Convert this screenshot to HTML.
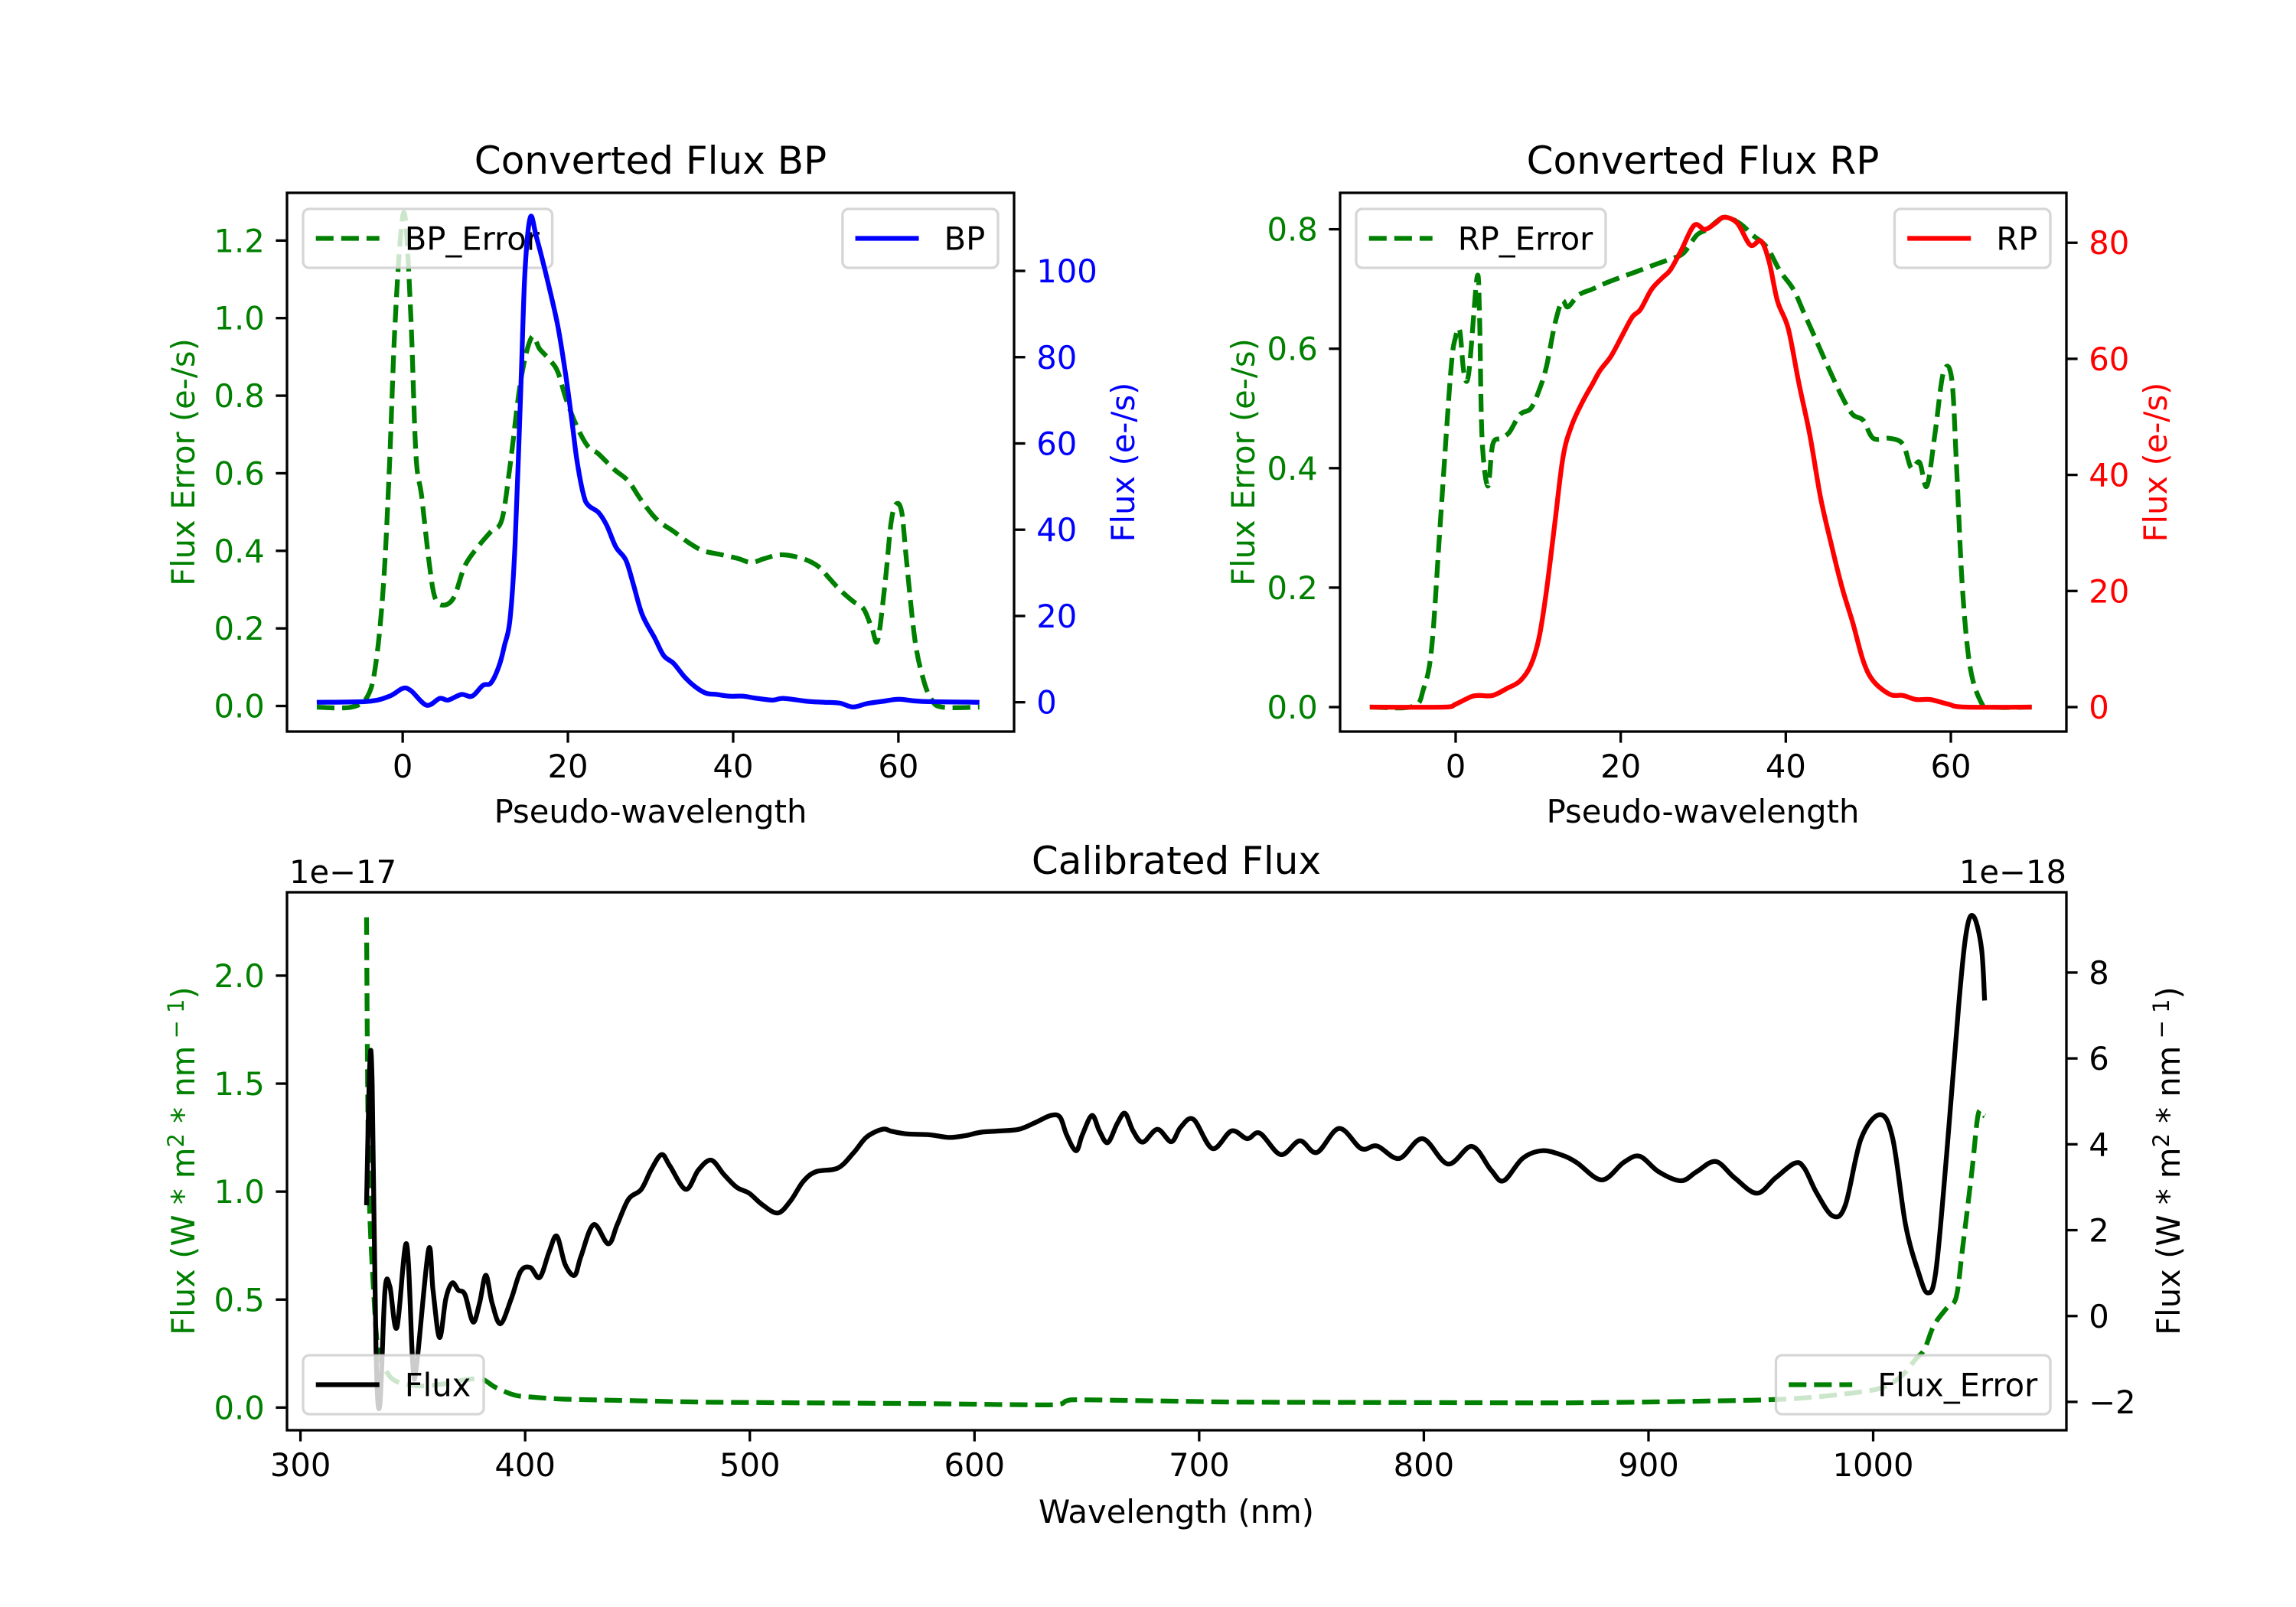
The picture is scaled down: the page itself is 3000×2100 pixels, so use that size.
<!DOCTYPE html>
<html><head><meta charset="utf-8"><style>
html,body{margin:0;padding:0;background:#fff}
svg{display:block;font-family:"DejaVu Sans","Liberation Sans",sans-serif}
</style></head><body>
<svg id="fig" width="3000" height="2100" viewBox="0 0 3000 2100" xmlns="http://www.w3.org/2000/svg">
<rect x="0" y="0" width="3000" height="2100" fill="#fff"/>
<defs>
<clipPath id="c1"><rect x="375" y="252" width="950" height="704"/></clipPath>
<clipPath id="c2"><rect x="1751" y="252" width="949" height="704"/></clipPath>
<clipPath id="c3"><rect x="375" y="1166" width="2325" height="703"/></clipPath>
</defs>
<g font-size="41.7">
<text x="850" y="227" text-anchor="middle" font-size="50">Converted Flux BP</text>
<text x="2225" y="227" text-anchor="middle" font-size="50">Converted Flux RP</text>
<text x="1537" y="1142" text-anchor="middle" font-size="50">Calibrated Flux</text>
<text x="850" y="1075" text-anchor="middle">Pseudo-wavelength</text>
<text x="2225" y="1075" text-anchor="middle">Pseudo-wavelength</text>
<text x="1537" y="1990" text-anchor="middle">Wavelength (nm)</text>
<text transform="translate(254,604) rotate(-90)" text-anchor="middle" fill="#008000">Flux Error (e-/s)</text>
<text transform="translate(1482,604) rotate(-90)" text-anchor="middle" fill="#0000ff">Flux (e-/s)</text>
<text transform="translate(1639,604) rotate(-90)" text-anchor="middle" fill="#008000">Flux Error (e-/s)</text>
<text transform="translate(2831,604) rotate(-90)" text-anchor="middle" fill="#ff0000">Flux (e-/s)</text>
<text transform="translate(254,1517) rotate(-90)" text-anchor="middle" fill="#008000">Flux (W * m<tspan dy="-14" font-size="29">2</tspan><tspan dy="14"> * nm</tspan><tspan dy="-14" font-size="29"> − 1</tspan><tspan dy="14">)</tspan></text>
<text transform="translate(2848,1517) rotate(-90)" text-anchor="middle" fill="#000">Flux (W * m<tspan dy="-14" font-size="29">2</tspan><tspan dy="14"> * nm</tspan><tspan dy="-14" font-size="29"> − 1</tspan><tspan dy="14">)</tspan></text>
<text x="378" y="1154">1e−17</text>
<text x="2700" y="1154" text-anchor="end">1e−18</text>
</g>
</svg>
<script>
// ---- data ----
const bpErrX=[-10.4,-6.2,-4.2,-3.2,-2.3,-1.6,-1.0,-0.3,0.3,1.0,1.6,2.3,3.2,3.9,4.9,6.2,7.5,9.1,10.7,12,13,14.3,15.6,16.6,17.9,18.8,19.8,21.1,22.4,23.7,25.6,27.3,28.9,30.8,32.8,34.7,36.4,38.6,40.6,42.2,43.8,45.8,48.4,50.3,51.6,52.9,54.5,55.8,56.8,57.5,58.4,59.1,59.7,60.4,61,62,63,64,65.3,69.8];
const bpErrY=[-0.003,-0.003,0.027,0.117,0.32,0.62,0.95,1.2,1.26,1.0,0.65,0.54,0.37,0.28,0.26,0.28,0.36,0.41,0.45,0.48,0.62,0.84,0.95,0.92,0.89,0.86,0.79,0.72,0.67,0.65,0.61,0.58,0.53,0.48,0.45,0.42,0.40,0.39,0.38,0.37,0.38,0.39,0.38,0.36,0.33,0.30,0.27,0.25,0.20,0.17,0.32,0.47,0.52,0.50,0.37,0.17,0.07,0.017,-0.003,-0.003];
const bpX=[-10.4,-4.2,-1.6,0,1,2.9,4.5,5.5,7.1,8.4,9.7,10.7,11.7,12.3,13,13.6,14.3,14.8,15.45,16.2,17.5,18.8,19.8,20.5,21.1,21.9,22.5,23.7,24.7,25.8,27,27.9,29,30.5,31.6,32.8,34.1,35.4,36.7,38,39.6,41.2,42.9,44.8,46.1,49,51,52.9,54.5,56.2,58.1,60.1,62.7,69.8];
const bpY=[0,0.2,1.4,3.2,2.7,-0.7,0.9,0.5,1.8,1.4,3.9,4.5,8.6,13,19.4,36.6,72.7,99.7,112.4,107.8,98,87,75,65,56,48,45.6,44,41,36,33,27.5,20.3,14.9,10.8,9,5.9,3.6,2.1,1.8,1.4,1.4,0.9,0.5,0.9,0.2,0,-0.2,-1.1,-0.3,0.2,0.7,0.2,0];
const rpX=[-10.4,-1.3,0,1.9,2.9,4.5,6.2,7.8,9.1,10.1,11,12,13,14,15.3,16.6,17.5,18.8,20.1,21.4,22.4,23.7,25,26,27.3,28.9,30.2,31.5,32.5,34.1,35.7,37,38,39,40.3,41.6,42.9,44.2,45.5,46.8,48.1,49.4,50.6,52.6,54.2,55.8,57.5,59.7,61.7,69.8];
const rpY=[0,0,0.5,1.8,2,2,3.2,4.5,7.2,11.9,20,31.5,43,48.3,52.4,55.7,58,60.4,63.8,67.2,68.5,71.9,73.9,75.3,78.6,83,82.3,83.4,84.4,83.4,79.6,80.3,76.6,69.9,65.2,55.7,47,36.2,28.1,20.7,14.6,7.9,4.5,2.2,2,1.3,1.3,0.5,0,0];
const rpErrX=[-10.4,-5.2,-3.9,-2.9,-1.9,-0.6,0,0.5,1,1.6,2.6,2.9,3.2,3.9,4.5,5.5,6.5,7.8,9.1,10.1,11,12,12.9,13.6,14.9,16.6,18.2,20.1,22.1,24,26,27.6,29.2,30.5,32.5,34.4,36,37.7,39.3,40.9,42.2,43.5,45.1,46.8,48.1,49.4,50.6,52.6,54.2,55.2,56.2,57.1,58.1,59.1,60.1,60.7,61.4,62.3,63.6,64.9,69.8];
const rpErrY=[0,0.001,0.03,0.1,0.3,0.56,0.62,0.63,0.56,0.56,0.72,0.65,0.45,0.37,0.44,0.45,0.46,0.49,0.50,0.53,0.57,0.64,0.68,0.67,0.69,0.70,0.71,0.72,0.73,0.74,0.75,0.76,0.79,0.80,0.82,0.81,0.79,0.77,0.73,0.70,0.66,0.62,0.57,0.52,0.49,0.48,0.45,0.45,0.44,0.40,0.41,0.37,0.46,0.56,0.55,0.40,0.20,0.07,0.01,0,0];
const calX=[329.4,330.8,331.9,333.6,335.3,337.6,339.8,342.9,347.2,350,351.7,357,359,361.9,364.7,367.5,370.3,373.2,376.8,379.7,382.5,385.3,389,393.8,398,402.3,406.5,410.7,414.1,417.8,422,424.9,430.5,437,441,446,451.7,456,460.7,464.4,471.5,477.1,482.8,488.4,494.1,499.7,505.4,512.4,518.1,523.7,529.4,539.3,546.3,552,559.1,563.3,570.3,580.2,588.7,595.8,602.8,611.3,619.8,626.8,633.9,638.1,641,645.2,648,652.3,655.6,659.3,663.6,667,670.6,674.9,681.4,687.6,691.8,697.5,705.9,714.4,721.4,727,736.3,744.8,752.4,762.3,772.1,779.2,789,799.4,810.7,821.4,829.9,835.5,843.9,852.4,860.8,867.9,879.2,889,896.1,904.5,914.4,921.4,929.9,938.3,948.2,956.6,965.1,969.3,974.9,982,987.6,994.6,1003.1,1008.7,1014.4,1020,1024.2,1027.9,1032.7,1038.3,1041.7,1044.8,1048.2,1049.6];
const calFlux=[2.58,5.8,5.4,-0.77,-2.09,0.59,0.68,-0.27,1.68,-1.13,-1.13,1.54,0.6,-0.5,0.4,0.77,0.6,0.5,-0.14,0.3,0.95,0.3,-0.18,0.4,1.04,1.13,0.9,1.5,1.86,1.2,0.95,1.4,2.13,1.68,2.13,2.72,2.95,3.4,3.76,3.5,2.95,3.4,3.63,3.3,3.0,2.86,2.6,2.4,2.68,3.13,3.36,3.45,3.81,4.17,4.35,4.3,4.24,4.22,4.16,4.2,4.28,4.31,4.35,4.5,4.67,4.63,4.22,3.85,4.22,4.67,4.31,4.04,4.49,4.72,4.31,4.05,4.35,4.06,4.4,4.58,3.9,4.31,4.13,4.26,3.76,4.08,3.81,4.37,3.9,3.96,3.67,4.13,3.54,3.95,3.4,3.15,3.67,3.85,3.76,3.58,3.17,3.58,3.72,3.36,3.15,3.36,3.6,3.22,2.86,3.22,3.56,3.45,2.86,2.33,2.58,4.13,4.69,4.13,2.13,1.04,0.54,1.04,3.76,7.39,9.02,9.3,8.57,7.35];
const calErrX=[329.4,330,330.8,332.5,334.5,338.1,342.9,352.8,364.1,374,381.1,386.7,395.2,402.3,415,429.1,451.7,480,522.3,578.8,635.3,641,646.6,691.8,722.8,807.3,863.7,920,962.3,990.4,1004.5,1013,1018.6,1022.8,1027,1032.7,1036.9,1039.7,1043.9,1046.8,1049.6];
const calErrY=[2.27,1.36,0.91,0.55,0.27,0.17,0.12,0.10,0.11,0.13,0.13,0.094,0.058,0.049,0.04,0.036,0.031,0.025,0.022,0.018,0.013,0.031,0.036,0.029,0.025,0.023,0.022,0.029,0.04,0.067,0.094,0.15,0.22,0.27,0.38,0.46,0.51,0.73,1.09,1.36,1.35];
const pwTicks=[0,20,40,60];
const bpErrTicks=[0,0.2,0.4,0.6,0.8,1.0,1.2];
const bpTicks=[0,20,40,60,80,100];
const rpErrTicks=[0,0.2,0.4,0.6,0.8];
const rpTicks=[0,20,40,60,80];
const wlTicks=[300,400,500,600,700,800,900,1000];
const calErrTicks=[0,0.5,1.0,1.5,2.0];
const calFluxTicks=[-2,0,2,4,6,8];

// ---- helpers ----
const NS='http://www.w3.org/2000/svg';
const svg=document.getElementById('fig');
function el(tag,attrs,parent){const e=document.createElementNS(NS,tag);for(const k in attrs)e.setAttribute(k,attrs[k]);(parent||svg).appendChild(e);return e;}
function lin(d0,d1,p0,p1){return v=>p0+(v-d0)*(p1-p0)/(d1-d0);}
const TL=14.6,TW=3.3,LW=6.25,FS=41.7;
function fmt(v,dec){return (v<0?'−':'')+Math.abs(v).toFixed(dec);}

function drawLine(xs,ys,sx,sy,color,dashed,clip,name){
  const P=xs.map((x,i)=>[sx(x),sy(ys[i])]);
  let d='M'+P[0][0].toFixed(1)+','+P[0][1].toFixed(1);
  const k=1/6;
  for(let i=0;i<P.length-1;i++){
    const p0=P[Math.max(0,i-1)],p1=P[i],p2=P[i+1],p3=P[Math.min(P.length-1,i+2)];
    let c1x=p1[0]+(p2[0]-p0[0])*k,c1y=p1[1]+(p2[1]-p0[1])*k;
    let c2x=p2[0]-(p3[0]-p1[0])*k,c2y=p2[1]-(p3[1]-p1[1])*k;
    // keep control x within segment to avoid loops
    c1x=Math.min(Math.max(c1x,p1[0]),p2[0]);c2x=Math.min(Math.max(c2x,p1[0]),p2[0]);
    d+='C'+c1x.toFixed(1)+','+c1y.toFixed(1)+' '+c2x.toFixed(1)+','+c2y.toFixed(1)+' '+p2[0].toFixed(1)+','+p2[1].toFixed(1);
  }
  const p=el('path',{d:d,fill:'none',stroke:color,'stroke-width':LW,'stroke-linejoin':'round','clip-path':'url(#'+clip+')'});
  if(dashed)p.setAttribute('stroke-dasharray','23.1,10');
  
  
}
function xTicks(ticks,sx,yb,name){
  const g=el('g',{});
  
  
  ticks.forEach(t=>{const x=sx(t);
    el('line',{x1:x,x2:x,y1:yb,y2:yb+TL,stroke:'#000','stroke-width':TW},g);
    const tx=el('text',{x:x,y:yb+TL+14.6+31,'text-anchor':'middle','font-size':FS},g);
    tx.textContent=fmt(t,0);
    
    
  });
}
function yTicks(ticks,sy,xa,side,color,dec,name){
  const g=el('g',{});
  
  
  ticks.forEach(t=>{const y=sy(t);const s=side==='left'?-1:1;
    el('line',{x1:xa,x2:xa+s*TL,y1:y,y2:y,stroke:'#000','stroke-width':TW},g);
    const tx=el('text',{x:xa+s*(TL+14.6),y:y+15,'text-anchor':side==='left'?'end':'start','font-size':FS,fill:color},g);
    tx.textContent=fmt(t,dec);
    
    
  });
}
function frame(x0,y0,x1,y1,name){
  const r=el('rect',{x:x0,y:y0,width:x1-x0,height:y1-y0,fill:'none',stroke:'#000','stroke-width':TW});
  
  
}
function legend(label,color,dashed,anchorX,anchorY,align,valign,name){
  const g=el('g',{});
  
  
  const t=el('text',{x:0,y:0,'font-size':FS},g);t.textContent=label;
  const tw=t.getComputedTextLength();
  const w=16.7+83+33+tw+16.7,h=77;
  const x=align==='left'?anchorX:anchorX-w;
  const y=valign==='top'?anchorY:anchorY-h;
  const box=el('rect',{x:x,y:y,width:w,height:h,rx:8,fill:'#fff','fill-opacity':0.8,stroke:'#cccccc','stroke-width':3.3,'stroke-opacity':0.8},g);
  g.insertBefore(box,t);
  const ln=el('line',{x1:x+16.7,x2:x+16.7+83,y1:y+h/2,y2:y+h/2,stroke:color,'stroke-width':LW},g);
  if(dashed)ln.setAttribute('stroke-dasharray','23.1,10');
  t.setAttribute('x',x+16.7+83+33);t.setAttribute('y',y+h/2+15);
}

// ---- BP axes ----
(function(){
  const X0=375,X1=1325,Y0=252,Y1=956;
  const sx=lin(-14,74,X0,X1),syL=lin(-0.066,1.323,Y1,Y0),syR=lin(-6.8,118.1,Y1,Y0);
  drawLine(bpErrX,bpErrY,sx,syL,'#008000',true,'c1','bp-error-line');
  xTicks(pwTicks,sx,Y1,'bp-x-axis');
  yTicks(bpErrTicks,syL,X0,'left','#008000',1,'bp-left-y-axis');
  frame(X0,Y0,X1,Y1,'bp-axes-frame');
  legend('BP_Error','#008000',true,396,273,'left','top','bp-error-legend');
  drawLine(bpX,bpY,sx,syR,'#0000ff',false,'c1','bp-flux-line');
  yTicks(bpTicks,syR,X1,'right','#0000ff',0,'bp-right-y-axis');
  legend('BP','#0000ff',false,1304,273,'right','top','bp-legend');
})();
// ---- RP axes ----
(function(){
  const X0=1751,X1=2700,Y0=252,Y1=956;
  const sx=lin(-14,74,X0,X1),syL=lin(-0.041,0.861,Y1,Y0),syR=lin(-4.22,88.6,Y1,Y0);
  drawLine(rpErrX,rpErrY,sx,syL,'#008000',true,'c2','rp-error-line');
  xTicks(pwTicks,sx,Y1,'rp-x-axis');
  yTicks(rpErrTicks,syL,X0,'left','#008000',1,'rp-left-y-axis');
  frame(X0,Y0,X1,Y1,'rp-axes-frame');
  legend('RP_Error','#008000',true,1772,273,'left','top','rp-error-legend');
  drawLine(rpX,rpY,sx,syR,'#ff0000',false,'c2','rp-flux-line');
  yTicks(rpTicks,syR,X1,'right','#ff0000',0,'rp-right-y-axis');
  legend('RP','#ff0000',false,2679,273,'right','top','rp-legend');
})();
// ---- Calibrated axes ----
(function(){
  const X0=375,X1=2700,Y0=1166,Y1=1869;
  const sx=lin(294,1086,X0,X1),syL=lin(-0.105,2.386,Y1,Y0),syR=lin(-2.66,9.87,Y1,Y0);
  drawLine(calErrX,calErrY,sx,syL,'#008000',true,'c3','flux-error-line');
  xTicks(wlTicks,sx,Y1,'cal-x-axis');
  yTicks(calErrTicks,syL,X0,'left','#008000',1,'cal-left-y-axis');
  frame(X0,Y0,X1,Y1,'cal-axes-frame');
  drawLine(calX,calFlux,sx,syR,'#000000',false,'c3','flux-line');
  yTicks(calFluxTicks,syR,X1,'right','#000000',0,'cal-right-y-axis');
  legend('Flux_Error','#008000',true,2679,1848,'right','bottom','flux-error-legend');
  legend('Flux','#000000',false,396,1848,'left','bottom','flux-legend');
})();
</script>
</body></html>
